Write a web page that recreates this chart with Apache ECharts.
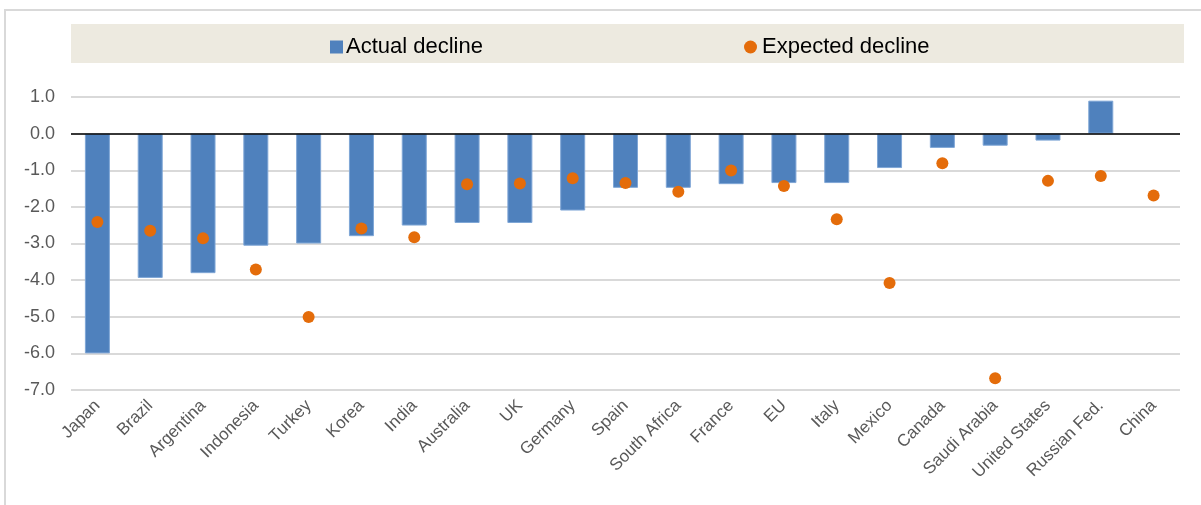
<!DOCTYPE html>
<html>
<head>
<meta charset="utf-8">
<script src="https://cdn.jsdelivr.net/npm/echarts@6/dist/echarts.min.js"></script>
<style>html,body{margin:0;padding:0;background:#fff;}#c{width:1201px;height:505px;}</style>
</head>
<body>
<div id="c"></div>
<script>
const categories = ['Japan','Brazil','Argentina','Indonesia','Turkey','Korea','India','Australia','UK','Germany','Spain','South Africa','France','EU','Italy','Mexico','Canada','Saudi Arabia','United States','Russian Fed.','China'];
const actualDecline = [-6.0,-3.94,-3.81,-3.06,-3.0,-2.8,-2.51,-2.44,-2.44,-2.1,-1.48,-1.48,-1.38,-1.35,-1.35,-0.94,-0.39,-0.33,-0.19,0.9,null];
const expectedDecline = [-2.41,-2.65,-2.86,-3.71,-5.01,-2.59,-2.83,-1.38,-1.36,-1.22,-1.35,-1.59,-1.01,-1.43,-2.34,-4.08,-0.81,-6.68,-1.29,-1.16,-1.69];
const yTicks = {min:-7, max:1, interval:1};

const FONT = 'Liberation Sans, Arial';
const chart = echarts.init(document.getElementById('c'));
chart.setOption({
  animation:false,
  backgroundColor:'#ffffff',
  graphic:[
    {type:'rect', shape:{x:5,y:10,width:1210,height:520}, style:{fill:'none', stroke:'#D9D9D9', lineWidth:2}, z:-10},
    {type:'rect', shape:{x:71,y:24,width:1113,height:39}, style:{fill:'#EDEAE0'}, z:-5}
  ],
  legend:[
    {data:[{name:'Actual decline', icon:'rect', itemStyle:{borderWidth:0}}], left:325, top:31, itemWidth:13, itemHeight:13, itemGap:4,
     textStyle:{fontFamily:FONT, fontSize:22, color:'#000', padding:[0,0,0,-2]}},
    {data:[{name:'Expected decline', icon:'circle'}], left:739, top:31, itemWidth:13, itemHeight:13,
     textStyle:{fontFamily:FONT, fontSize:22, color:'#000', padding:[0,0,0,0]}}
  ],
  grid:{left:71, right:21, top:97, bottom:115, containLabel:false},
  xAxis:{
    type:'category', data:categories,
    axisLine:{show:false}, axisTick:{show:false},
    axisLabel:{rotate:45, interval:0, margin:13, fontFamily:FONT, fontSize:17, color:'#595959'}
  },
  yAxis:{
    type:'value', min:yTicks.min, max:yTicks.max, interval:yTicks.interval,
    axisLine:{show:false}, axisTick:{show:false},
    axisLabel:{formatter:v=>v.toFixed(1), margin:16, fontFamily:FONT, fontSize:18, color:'#595959'},
    splitLine:{lineStyle:{color:'#D9D9D9', width:2}}
  },
  series:[
    {name:'Actual decline', type:'bar', data:actualDecline, barWidth:25,
     itemStyle:{color:'#4F81BD', borderColor:'#7FA6D6', borderWidth:1},
     markLine:{silent:true, symbol:'none', label:{show:false}, lineStyle:{color:'#000', width:1.5, type:'solid'}, data:[{yAxis:0}], z:3}},
    {name:'Expected decline', type:'scatter', data:expectedDecline, symbol:'circle', symbolSize:12,
     itemStyle:{color:'#E46C0A', opacity:1}, z:5}
  ]
});
</script>
</body>
</html>
